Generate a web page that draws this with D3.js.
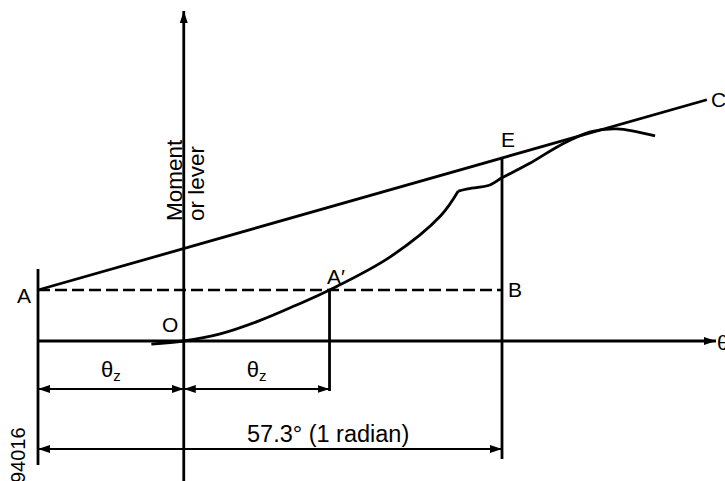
<!DOCTYPE html>
<html>
<head>
<meta charset="utf-8">
<script src="https://cdn.jsdelivr.net/npm/d3@7"></script>
<style>
  body { margin: 0; background: #fff; }
  text { font-family: "Liberation Sans", Arial, sans-serif; fill: #000; }
</style>
</head>
<body>
<div id="chart"></div>
<script>
// angles in degrees, lever in units of the A level
const thetaZ = 18;
const radian = 57.3;
const leverA = 1.0;
const lineAC = [[-18, 1.0], [64.6, 4.73]];
const curveLower = [[-4, -0.06], [0, 0], [4.5, 0.14], [9.2, 0.39], [13.7, 0.69], [18, 1.0],
                    [25.5, 1.65], [31.7, 2.45], [33.9, 2.94]];
const curveUpper = [[33.9, 2.94], [34.9, 2.98], [37.8, 3.06], [39.3, 3.2], [42.8, 3.49],
                    [46.5, 3.84], [50.2, 4.1], [53.5, 4.16], [58.2, 4.02]];
const labels = ["A", "A\u2032", "B", "E", "C", "O"];

const W = 725, H = 481;
const svg = d3.select("#chart").append("svg").attr("width", W).attr("height", H);

const x = d3.scaleLinear().domain([-thetaZ, radian - thetaZ]).range([38, 502]);
const y = d3.scaleLinear().domain([0, leverA]).range([341, 290]);

const defs = svg.append("defs");
function marker(id, path) {
    defs.append("marker").attr("id", id)
        .attr("viewBox", "0 0 12 8").attr("refX", 12).attr("refY", 4)
        .attr("markerWidth", 12).attr("markerHeight", 8)
        .attr("markerUnits", "userSpaceOnUse").attr("orient", "auto-start-reverse")
        .append("path").attr("d", path).attr("fill", "#000");
}
marker("arr", "M0,0L12,4L0,8Z");

const sw = 2.8;
const g = svg.append("g").attr("stroke", "#000").attr("fill", "none");
const xA = x(-thetaZ), xO = x(0), xA2 = x(thetaZ), xB = x(radian - thetaZ);
const y0 = y(0), yA = y(leverA);

// axes
g.append("line").attr("x1", xA).attr("x2", 716).attr("y1", y0).attr("y2", y0)
    .attr("stroke-width", sw).attr("marker-end", "url(#arr)");
g.append("line").attr("x1", xO).attr("x2", xO).attr("y1", H).attr("y2", 11)
    .attr("stroke-width", sw).attr("marker-end", "url(#arr)");

// verticals
g.append("line").attr("x1", xA).attr("x2", xA).attr("y1", 269).attr("y2", 465).attr("stroke-width", sw);
const slope = (lineAC[1][1] - lineAC[0][1]) / (lineAC[1][0] - lineAC[0][0]);
const leverE = lineAC[0][1] + slope * (radian - thetaZ - lineAC[0][0]);
g.append("line").attr("x1", xB).attr("x2", xB).attr("y1", y(leverE)).attr("y2", 459).attr("stroke-width", sw);
g.append("line").attr("x1", xA2).attr("x2", xA2).attr("y1", yA).attr("y2", 391).attr("stroke-width", sw);

// dashed A-B
g.append("line").attr("x1", xA).attr("x2", xB).attr("y1", yA).attr("y2", yA)
    .attr("stroke-width", 2.4).attr("stroke-dasharray", "12,5");

// tangent line A-C
g.append("line")
    .attr("x1", x(lineAC[0][0])).attr("y1", y(lineAC[0][1]))
    .attr("x2", x(lineAC[1][0])).attr("y2", y(lineAC[1][1]))
    .attr("stroke-width", sw);

// curve
const line = d3.line().x(d => x(d[0])).y(d => y(d[1])).curve(d3.curveCatmullRom);
[curveLower, curveUpper].forEach(c => {
    g.append("path").attr("d", line(c)).attr("stroke-width", sw);
});

// dimension arrows
function dim(x1, x2, yy) {
    g.append("line").attr("x1", x1).attr("x2", x2).attr("y1", yy).attr("y2", yy)
        .attr("stroke-width", 2.2).attr("marker-start", "url(#arr)").attr("marker-end", "url(#arr)");
}
dim(xA, xO, 389);
dim(xO, xA2, 389);
dim(xA, xB, 449);

// labels
const fs = 21;
function label(t, px, py, anchor) {
    return svg.append("text").attr("x", px).attr("y", py).attr("font-size", fs)
        .attr("text-anchor", anchor || "start").text(t);
}
label(labels[0], 17, 303);
label(labels[1], 327, 284);
label(labels[2], 508, 297);
label(labels[3], 501, 147);
label(labels[4], 711, 107);
label(labels[5], 162, 332);
label("\u03b8", 717, 350);

function thetaSub(cx) {
    const t = svg.append("text").attr("x", cx).attr("y", 377).attr("font-size", 22).attr("text-anchor", "middle");
    t.append("tspan").text("\u03b8");
    t.append("tspan").attr("font-size", 15).attr("dy", 4).text("z");
}
thetaSub((xA + xO) / 2);
thetaSub((xO + xA2) / 2);

label("57.3\u00b0 (1 radian)", 247, 442).attr("font-size", 23.5);

svg.append("text").attr("transform", "translate(182,221) rotate(-90)").attr("font-size", 22.5).text("Moment");
svg.append("text").attr("transform", "translate(204,221) rotate(-90)").attr("font-size", 22.5).text("or lever");
svg.append("text").attr("transform", "translate(25,483) rotate(-90)").attr("font-size", 20).text("94016");
</script>
</body>
</html>
